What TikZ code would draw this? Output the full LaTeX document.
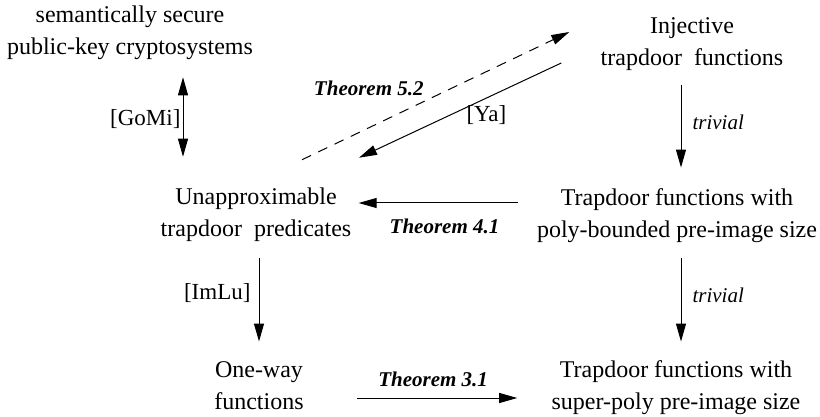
\documentclass[tikz,border=0pt]{standalone}
\usepackage{fontspec}
\setmainfont{Liberation Serif}
\usepackage{tikz}
\usetikzlibrary{arrows.meta}
\usetikzlibrary{calc}

\begin{document}
\begin{tikzpicture}[
		x=0.5pt, y=-0.5pt,
		every node/.style={font=\fontsize{12}{16}\selectfont},
		concept/.style={align=center, inner sep=0pt},
		implarrow/.style={-{Triangle[length=9pt, width=5pt]}, line width=0.5pt},
		botharrow/.style={{Triangle[length=9pt, width=5pt]}-{Triangle[length=9pt, width=5pt]}, line width=0.5pt},
		openarrow/.style={implarrow, dash pattern=on 5pt off 4pt},
		citelabel/.style={inner sep=1pt, font=\fontsize{11.5}{14}\selectfont},
		thmlabel/.style={inner sep=1pt, font=\fontsize{10.5}{13}\selectfont\bfseries\itshape},
		triviallabel/.style={inner sep=1pt, font=\fontsize{10.5}{13}\selectfont\itshape}
	]

	% Page frame
	\useasboundingbox (0,0) rectangle (820,417);

	% Left column
	\node[concept] (pkc) at (130,33) {semantically secure\\public-key cryptosystems};
	\node[concept] (utp) at (256,215) {Unapproximable\\trapdoor\ \ predicates};
	\node[concept] (owf) at (259,386) {One-way\\functions};

	% Right column
	\node[concept] (inj) at (692,44) {Injective\\trapdoor\ \ functions};
	\node[concept] (tpb) at (677,216) {Trapdoor functions with\\poly-bounded pre-image size};
	\node[concept] (tsp) at (676,388) {Trapdoor functions with\\super-poly pre-image size};

	% Vertical arrows
	\draw[botharrow] ($(pkc.south)+(53,17)$) -- ($(utp.north)+(-73,-31)$)
		node[citelabel, left, pos=0.53] (gomi) {[GoMi]};
	\draw[implarrow] ($(utp.south)+(3,16)$) -- ($(owf.north)+(0,-20)$)
		node[citelabel, left=3pt, pos=0.42] (imlu) {[ImLu]};
	\draw[implarrow] ($(inj.south)+(-11,14)$) -- ($(tpb.north)+(4,-21)$)
		node[triviallabel, right=4.5pt, pos=0.45] (triv1) {trivial};
	\draw[implarrow] ($(tpb.south)+(4,15)$) -- ($(tsp.north)+(5,-19)$)
		node[triviallabel, right=4.5pt, pos=0.44] (triv2) {trivial};

	% Horizontal arrows
	\draw[implarrow] ($(tpb.west)+(-19,-13)$) -- ($(utp.east)+(7,-12)$)
		node[thmlabel, below=6.5pt, pos=0.46] (thm41) {Theorem 4.1};
	\draw[implarrow] ($(owf.east)+(53,12)$) -- ($(tsp.west)+(-34,10)$)
		node[thmlabel, above=4.5pt, pos=0.475] (thm31) {Theorem 3.1};

	% Diagonal arrows
	\draw[openarrow] ($(utp.north)+(46,-28)$) -- ($(inj.west)+(-31,-12)$)
		node[thmlabel, above=14.5pt, pos=0.25] (thm52) {Theorem 5.2};
	\draw[implarrow] ($(inj.west)+(-39,19)$) -- ($(utp.north)+(103,-30)$)
		node[citelabel, below=2.5pt, pos=0.37] (ya) {[Ya]};

\end{tikzpicture}
\end{document}
